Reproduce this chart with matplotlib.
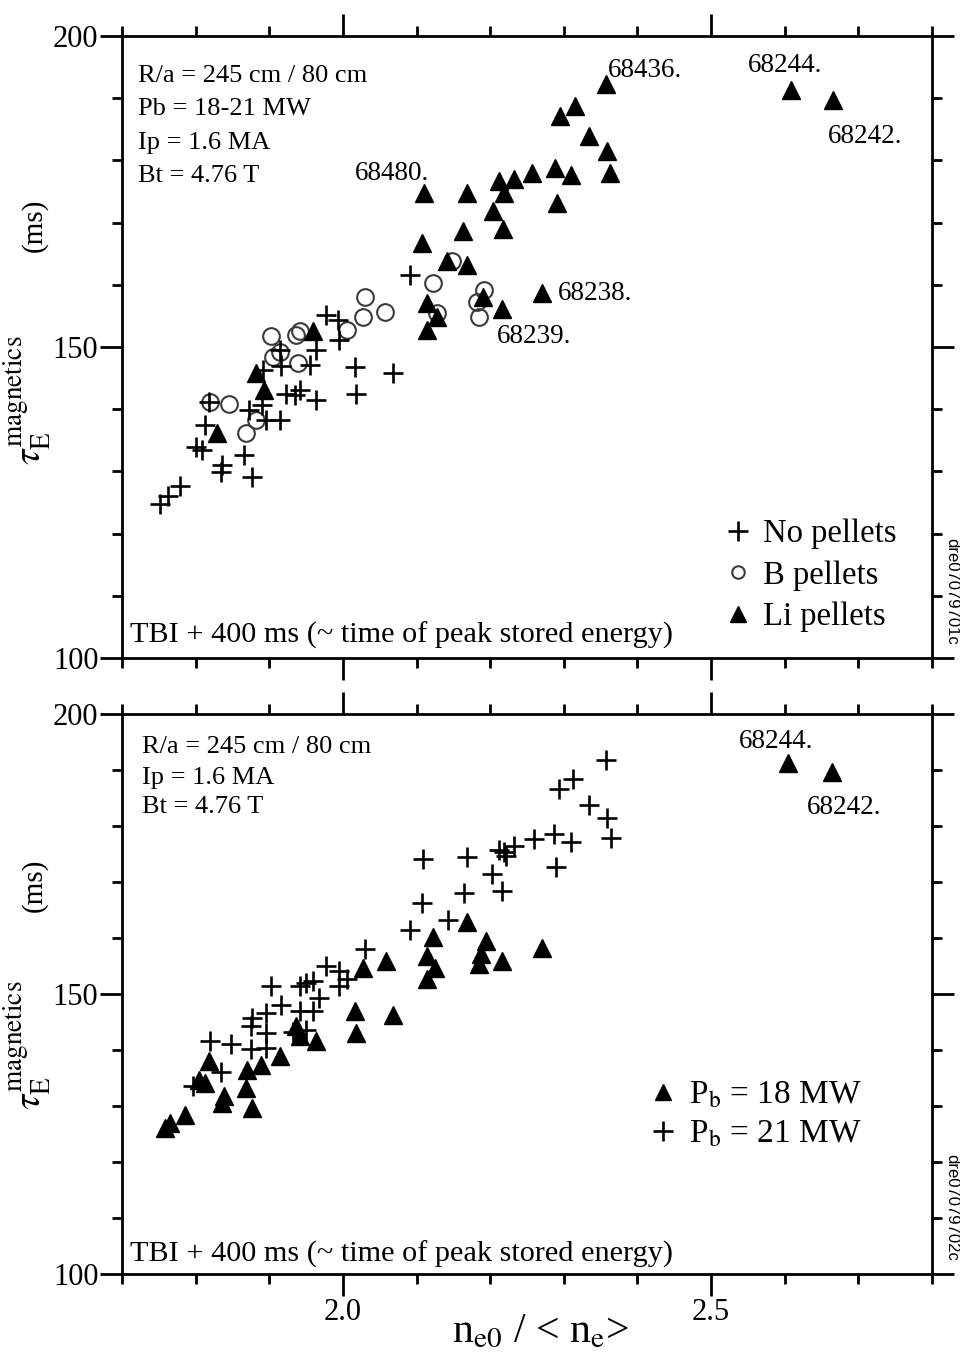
import matplotlib
matplotlib.use('Agg')
import matplotlib.pyplot as plt
from matplotlib.lines import Line2D
from matplotlib.ticker import MultipleLocator, FixedLocator

plt.rcParams['font.family'] = ['Liberation Serif', 'DejaVu Serif']
plt.rcParams['mathtext.fontset'] = 'stix'

# ---- top panel: by pellet type ----
none_x = [2.091, 1.977, 1.993, 1.995, 1.964, 1.955, 2.016, 2.068, 2.018, 1.964,
          1.941, 1.935, 1.923, 1.914, 1.895, 1.890, 1.873, 1.818, 1.813, 1.800,
          1.808, 1.836, 1.834, 1.866, 1.877, 1.779, 1.763, 1.752, 1.914, 1.891,
          1.916]
none_y = [161.6, 155.2, 154.4, 151.1, 149.5, 147.1, 146.8, 145.8, 142.5, 141.5,
          143.1, 142.3, 142.5, 138.2, 138.2, 140.6, 139.8, 141.2, 137.4, 133.9,
          133.4, 131.0, 129.9, 132.6, 129.1, 127.7, 126.1, 124.8, 149.5, 146.3,
          147.0]

boron_x = [2.030, 2.027, 2.057, 2.005, 2.123, 2.148, 2.191, 2.182, 2.185, 2.128,
           1.902, 1.936, 1.941, 1.914, 1.905, 1.939, 1.820, 1.845, 1.868, 1.882]
boron_y = [158.1, 154.9, 155.7, 152.7, 160.3, 163.8, 159.2, 157.3, 154.9, 155.5,
           151.7, 151.9, 152.5, 149.2, 148.4, 147.4, 141.2, 140.9, 136.1, 138.2]

li_x = [2.357, 2.315, 2.295, 2.334, 2.358, 2.363, 2.257, 2.232, 2.212, 2.288,
        2.310, 2.291, 2.219, 2.110, 2.169, 2.204, 2.107, 2.163, 2.218, 2.141,
        2.168, 2.190, 2.216, 2.114, 2.128, 2.114, 1.959, 1.882, 1.893, 1.829,
        2.271, 2.608, 2.666]
li_y = [192.3, 188.7, 187.1, 183.9, 181.5, 178.0, 177.9, 177.0, 176.7, 178.8,
        177.7, 173.2, 174.8, 174.8, 174.8, 171.8, 166.7, 168.6, 168.9, 163.8,
        163.2, 158.1, 156.1, 157.0, 154.9, 152.7, 152.5, 145.8, 143.1, 136.1,
        158.7, 191.3, 189.7]

# ---- bottom panel: by beam power ----
p18_x = [2.168, 2.122, 2.114, 2.125, 2.114, 2.194, 2.187, 2.185, 2.216, 2.059,
         2.027, 2.016, 2.068, 2.018, 1.936, 1.941, 1.964, 1.914, 1.889, 1.870,
         1.868, 1.877, 1.818, 1.804, 1.813, 1.838, 1.836, 1.786, 1.765, 1.758,
         2.271, 2.605, 2.664]
p18_y = [162.8, 160.2, 156.8, 154.7, 152.6, 159.5, 157.1, 155.3, 155.9, 155.9,
         154.7, 146.9, 146.3, 143.0, 144.3, 142.5, 141.6, 138.9, 137.4, 136.5,
         133.2, 129.6, 138.0, 134.7, 134.1, 131.7, 130.5, 128.4, 126.9, 126.1,
         158.3, 191.2, 189.6]

p21_x = [2.357, 2.312, 2.294, 2.334, 2.359, 2.364, 2.287, 2.310, 2.260, 2.232,
         2.219, 2.289, 2.109, 2.169, 2.212, 2.221, 2.203, 2.164, 2.216, 2.108,
         2.143, 2.091, 2.030, 1.977, 1.995, 1.995, 2.005, 1.950, 1.959, 1.941,
         1.902, 1.968, 1.916, 1.941, 1.959, 1.895, 1.877, 1.875, 1.895, 1.932,
         1.950, 1.820, 1.848, 1.875, 1.895, 1.834, 1.797]
p21_y = [191.8, 188.4, 186.7, 183.7, 181.5, 177.8, 178.5, 177.2, 177.6, 176.4,
         175.3, 172.6, 174.1, 174.4, 175.8, 174.7, 171.4, 168.1, 168.4, 166.3,
         163.3, 161.5, 158.0, 155.0, 154.1, 151.4, 152.6, 152.0, 152.3, 151.4,
         151.4, 149.3, 148.1, 146.9, 146.9, 146.6, 145.7, 144.2, 143.0, 143.3,
         143.6, 141.6, 141.0, 140.1, 140.4, 136.0, 133.5]

top_shots = ['68436.', '68244.', '68242.', '68480.', '68238.', '68239.']
top_shot_pos = [(608, 77), (748, 72), (828, 143), (355, 180), (558, 300), (497, 343)]
bot_shots = ['68244.', '68242.']
bot_shot_pos = [(739, 748), (807, 814)]

top_info = ['R/a = 245 cm / 80 cm', 'Pb = 18-21 MW', 'Ip = 1.6 MA', 'Bt = 4.76 T']
bot_info = ['R/a = 245 cm / 80 cm', 'Ip = 1.6 MA', 'Bt = 4.76 T']
time_note = 'TBI + 400 ms (~ time of peak stored energy)'

W, H = 960, 1355


def fx(x):
    return x / W


def fy(y):
    return 1 - y / H


fig = plt.figure(figsize=(W / 100, H / 100), dpi=100)
ax1 = fig.add_axes([fx(122), fy(658), 810 / W, 622 / H])
ax2 = fig.add_axes([fx(122), fy(1274), 810 / W, 560 / H])

ax1.plot(boron_x, boron_y, 'o', ms=12, mfc='none', mec='#3a3a3a', mew=1.5, zorder=3)
ax1.plot(none_x, none_y, '+', ms=14, mec='black', mew=1.9, zorder=4)
ax1.plot(li_x, li_y, '^', ms=13.5, color='black', zorder=5)

ax2.plot(p18_x, p18_y, '^', ms=13.5, color='black', zorder=4)
ax2.plot(p21_x, p21_y, '+', ms=14, mec='black', mew=1.9, zorder=5)

for ax in (ax1, ax2):
    ax.set_xlim(1.6999, 2.8001)
    ax.set_ylim(99.99, 200.01)
    ax.xaxis.set_major_locator(FixedLocator([2.0, 2.5]))
    ax.xaxis.set_minor_locator(MultipleLocator(0.1))
    ax.yaxis.set_major_locator(FixedLocator([100, 150, 200]))
    ax.yaxis.set_minor_locator(MultipleLocator(10))
    ax.tick_params(which='both', direction='out', width=2, top=True, right=True,
                   labelsize=22, pad=1)
    ax.tick_params(which='major', length=16)
    ax.tick_params(which='minor', length=7.5)
    for s in ax.spines.values():
        s.set_linewidth(2)

ax1.set_xticklabels([])
ax2.set_xticklabels(['2.0', '2.5'])

# legends
h_top = [Line2D([], [], ls='none', marker='+', ms=15, mec='black', mew=1.9),
         Line2D([], [], ls='none', marker='o', ms=9, mfc='none', mec='#3a3a3a', mew=1.5),
         Line2D([], [], ls='none', marker='^', ms=12, color='black')]
ax1.legend(h_top, ['No pellets', 'B pellets', 'Li pellets'], loc='upper left',
           bbox_to_anchor=(fx(722), fy(519)), bbox_transform=fig.transFigure,
           frameon=False, fontsize=23.5, borderpad=0, borderaxespad=0,
           handlelength=1.0, handletextpad=0.27, labelspacing=0.33)

h_bot = [Line2D([], [], ls='none', marker='^', ms=12, color='black'),
         Line2D([], [], ls='none', marker='+', ms=15, mec='black', mew=1.9)]
ax2.legend(h_bot, [r'P$_{\rm b}$ = 18 MW', r'P$_{\rm b}$ = 21 MW'], loc='upper left',
           bbox_to_anchor=(fx(646), fy(1080)), bbox_transform=fig.transFigure,
           frameon=False, fontsize=24, borderpad=0, borderaxespad=0,
           handlelength=1.0, handletextpad=0.3, labelspacing=0.26)

# parameter notes
for txt, yb in zip(top_info, [82, 115, 149, 182]):
    fig.text(fx(138), fy(yb), txt, fontsize=19, va='baseline')
for txt, yb in zip(bot_info, [753, 784, 813]):
    fig.text(fx(142), fy(yb), txt, fontsize=19, va='baseline')
fig.text(fx(130), fy(643), time_note, fontsize=21.8, va='baseline')
fig.text(fx(130), fy(1262), time_note, fontsize=21.8, va='baseline')

for s, (px, py) in zip(top_shots, top_shot_pos):
    fig.text(fx(px), fy(py), s, fontsize=19.5, va='baseline')
for s, (px, py) in zip(bot_shots, bot_shot_pos):
    fig.text(fx(px), fy(py), s, fontsize=19.5, va='baseline')

# axis labels
for yc, ym in [(400, 225), (1045, 885)]:
    fig.text(fx(27), fy(yc), r'$\tau_{\rm E}^{\rm magnetics}$', fontsize=28,
             rotation=90, ha='center', va='center')
    fig.text(fx(34), fy(ym), '(ms)', fontsize=21, rotation=90, ha='center', va='center')

fig.text(fx(540), fy(1342), r'n$_{\rm e0}$ / < n$_{\rm e}$>', fontsize=30,
         ha='center', va='baseline')

fig.text(fx(952), fy(591), 'dre07079701c', fontsize=12, family='Liberation Sans',
         rotation=-90, ha='center', va='center')
fig.text(fx(952), fy(1207), 'dre07079702c', fontsize=12, family='Liberation Sans',
         rotation=-90, ha='center', va='center')

fig.savefig('out.png', dpi=100)
